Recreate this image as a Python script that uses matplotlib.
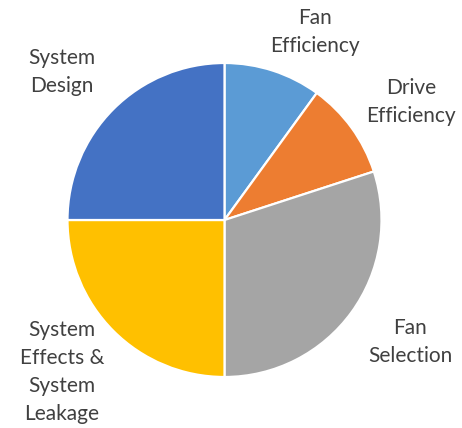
import matplotlib
matplotlib.use('Agg')
import matplotlib.pyplot as plt

# data (percent shares)
labels = ['Fan\nEfficiency', 'Drive\nEfficiency', 'Fan\nSelection',
          'System\nEffects &\nSystem\nLeakage', 'System\nDesign']
shares = [10, 10, 30, 25, 25]
colors = ['#5B9BD5', '#ED7D31', '#A5A5A5', '#FFC000', '#4472C4']

# label centres (axes data units, pie radius = 1)
label_pos = [(0.576, 1.197), (1.188, 0.752), (1.181, -0.777),
             (-1.035, -0.968), (-1.035, 0.943)]

plt.rcParams['font.family'] = ['Lato', 'DejaVu Sans']

fig = plt.figure(figsize=(4.62, 4.28), dpi=100)
ax = fig.add_axes([0, 0, 1, 1])

wedges, texts = ax.pie(shares, labels=labels, colors=colors, startangle=90,
                       counterclock=False,
                       wedgeprops=dict(edgecolor='white', linewidth=1.6),
                       textprops=dict(fontsize=15, color='#404040'))
for t, p in zip(texts, label_pos):
    t.set_position(p)
    t.set_ha('center')
    t.set_va('center')
    t.set_multialignment('center')
    t.set_linespacing(1.5)

ax.set_xlim(-224.5 / 157, (462 - 224.5) / 157)
ax.set_ylim(-208 / 157, 220 / 157)
ax.set_aspect('auto')
ax.axis('off')

fig.savefig('out.png', dpi=100)
